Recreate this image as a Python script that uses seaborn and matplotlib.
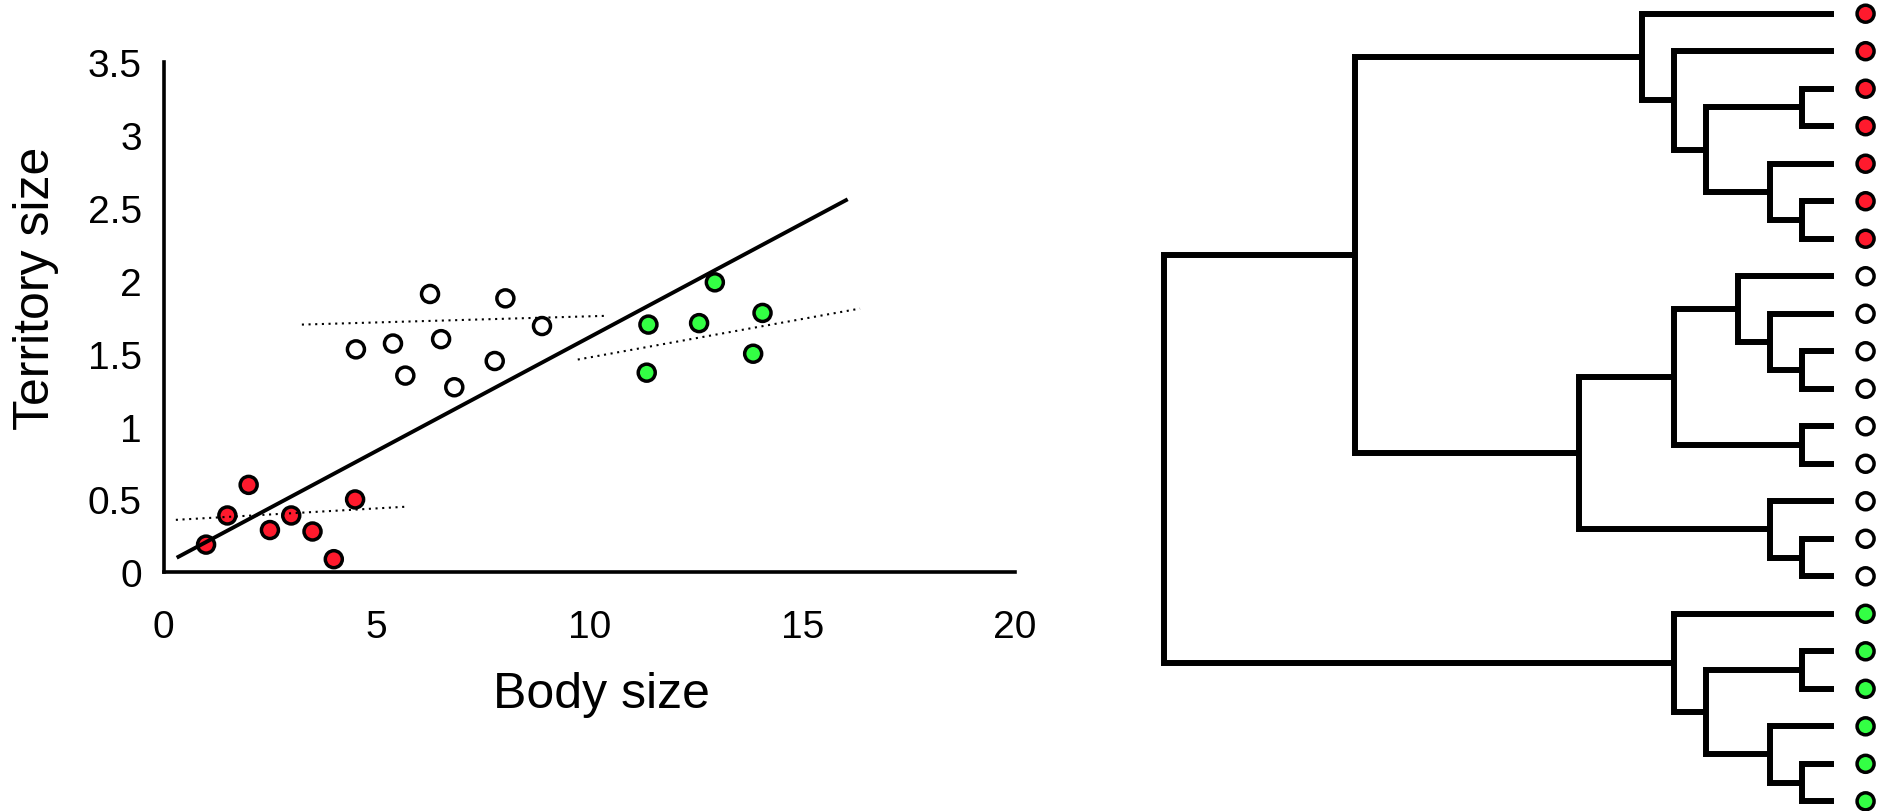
import matplotlib
matplotlib.use("Agg")
import matplotlib.pyplot as plt
import numpy as np
import pandas as pd
import seaborn as sns

# ---------------- scatter data (Body size vs Territory size) ----------------
red_body = [1.0, 1.5, 2.0, 2.5, 3.0, 3.5, 4.0, 4.5]
red_territory = [0.19, 0.39, 0.60, 0.29, 0.39, 0.28, 0.09, 0.50]
white_body = [4.52, 5.39, 5.68, 6.26, 6.52, 6.83, 7.78, 8.03, 8.89]
white_territory = [1.53, 1.57, 1.35, 1.91, 1.60, 1.27, 1.45, 1.88, 1.69]
green_body = [11.35, 11.39, 12.58, 12.95, 13.85, 14.07]
green_territory = [1.37, 1.70, 1.71, 1.99, 1.50, 1.78]

# fitted regression lines (end points)
overall_fit_x = [0.31, 16.07]
overall_fit_y = [0.10, 2.56]
red_fit_x = [0.29, 5.69]
red_fit_y = [0.36, 0.45]
white_fit_x = [3.25, 10.39]
white_fit_y = [1.70, 1.76]
green_fit_x = [9.73, 16.36]
green_fit_y = [1.46, 1.81]

x_ticks = [0, 5, 10, 15, 20]
y_ticks = [0, 0.5, 1, 1.5, 2, 2.5, 3, 3.5]
y_tick_labels = ["0", "0.5", "1", "1.5", "2", "2.5", "3", "3.5"]

# ---------------- tree data (linkage: left child, right child, height) ----------------
tip_group = ["red"] * 7 + ["white"] * 9 + ["green"] * 6
merge_left = [2, 5, 4, 22, 1, 0, 9, 8, 7, 11, 30, 14, 13, 32, 17, 20, 19, 36, 16, 27, 41]
merge_right = [3, 6, 23, 24, 25, 26, 10, 28, 29, 12, 31, 15, 33, 34, 18, 21, 37, 38, 39, 35, 40]
merge_height = [1, 1, 2, 4, 5, 6, 1, 2, 3, 1, 5, 1, 2, 8, 1, 1, 2, 4, 5, 15, 21]

palette = {"red": "#ff1a2d", "white": "#ffffff", "green": "#33ff44"}

sns.set_theme(style="white")
plt.rcParams["font.family"] = ["Liberation Sans", "DejaVu Sans"]
plt.rcParams["text.color"] = "black"
plt.rcParams["axes.labelcolor"] = "black"
plt.rcParams["xtick.color"] = "black"
plt.rcParams["ytick.color"] = "black"

W, H = 1888, 812
fig = plt.figure(figsize=(W / 100, H / 100), dpi=100)

# ---------------- left panel ----------------
ax = fig.add_axes([163.5 / W, (H - 573.3) / H, (1015 - 163.5) / W, (573.3 - 63.3) / H])

df = pd.DataFrame({
    "body": red_body + white_body + green_body,
    "territory": red_territory + white_territory + green_territory,
    "group": ["red"] * len(red_body) + ["white"] * len(white_body) + ["green"] * len(green_body),
})
sns.scatterplot(data=df, x="body", y="territory", hue="group", palette=palette,
                s=150, edgecolor="black", linewidth=2.5, legend=False, ax=ax, zorder=3,
                clip_on=False)

sns.lineplot(x=overall_fit_x, y=overall_fit_y, color="black", linewidth=2.8, ax=ax,
             zorder=4, solid_capstyle="butt")
for fx, fy in [(red_fit_x, red_fit_y), (white_fit_x, white_fit_y), (green_fit_x, green_fit_y)]:
    sns.lineplot(x=fx, y=fy, color="black", linewidth=1.5, linestyle=(0, (1, 2.2)),
                 ax=ax, zorder=4)

ax.set_xlim(0, 20)
ax.set_ylim(0, 3.5)
ax.set_xticks(x_ticks)
ax.set_xticklabels([str(t) for t in x_ticks])
ax.set_yticks(y_ticks)
ax.set_yticklabels(y_tick_labels)
ax.set_xlabel("")
ax.set_ylabel("")
for side in ["top", "right"]:
    ax.spines[side].set_visible(False)
for side in ["left", "bottom"]:
    ax.spines[side].set_linewidth(2.6)
    ax.spines[side].set_color("black")
ax.tick_params(axis="both", direction="out", length=5.5, width=2.6, color="black",
               labelsize=28, labelcolor="black")
ax.tick_params(axis="x", pad=21)
ax.tick_params(axis="y", pad=10)
ax.grid(False)

fig.text(601.3 / W, (H - 708.3) / H, "Body size", fontsize=36, ha="center",
         va="baseline", color="black")
fig.text(36 / W, (H - 288) / H, "Territory size", fontsize=36, rotation=90,
         ha="center", va="center", color="black")

# ---------------- right panel: dendrogram ----------------
ax2 = fig.add_axes([1140 / W, 0, (W - 1140) / W, 1])
n_tips = len(tip_group)
pos = {i: float(i) for i in range(n_tips)}
hgt = {i: 0.0 for i in range(n_tips)}
for k, (a, b, h) in enumerate(zip(merge_left, merge_right, merge_height)):
    node = n_tips + k
    ax2.plot([hgt[a], h, h, hgt[b]], [pos[a], pos[a], pos[b], pos[b]],
             color="black", linewidth=4.3, solid_joinstyle="miter", solid_capstyle="butt")
    pos[node] = (pos[a] + pos[b]) / 2
    hgt[node] = h

tips_df = pd.DataFrame({"x": [-1.0] * n_tips, "y": list(range(n_tips)), "group": tip_group})
sns.scatterplot(data=tips_df, x="x", y="y", hue="group", palette=palette, s=150,
                edgecolor="black", linewidth=2.5, legend=False, ax=ax2, zorder=3, clip_on=False)

ax2.set_xlim(21.75, -1.703)
ax2.set_ylim(21.258, -0.392)
ax2.axis("off")

fig.savefig("out.png", dpi=100)
